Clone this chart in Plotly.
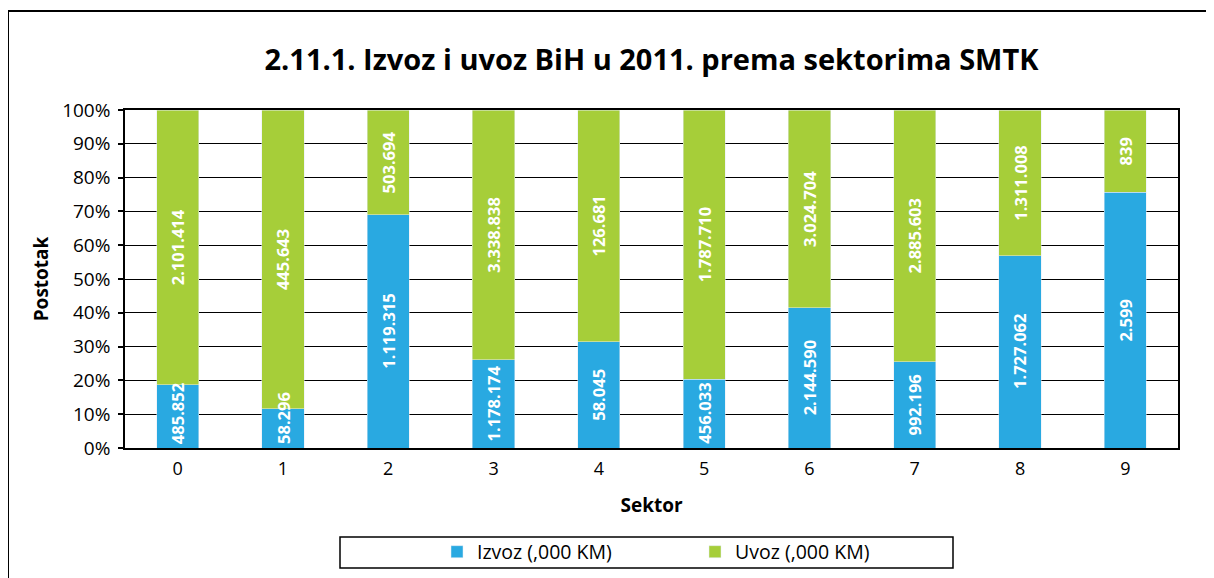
import plotly.graph_objects as go

sectors = ["0", "1", "2", "3", "4", "5", "6", "7", "8", "9"]
izvoz = [485852, 58296, 1119315, 1178174, 58045, 456033, 2144590, 992196, 1727062, 2599]
uvoz = [2101414, 445643, 503694, 3338838, 126681, 1787710, 3024704, 2885603, 1311008, 839]
y_ticks = [0, 10, 20, 30, 40, 50, 60, 70, 80, 90, 100]
y_ticktext = [f"{v}%" for v in y_ticks]


def fmt(v):
    return f"{v:,}".replace(",", ".")


BLUE = "#29A9E1"
GREEN = "#A6CE39"
FONT = "Open Sans"
LBL = dict(color="white", size=16.5, family=FONT, weight="bold")

# page body has 8px margin -> work in reference coords minus 8
O = 8
W, H = 1214 - O, 578 - O
L, R, T, B = 125 - O, 1178 - O, 110 - O, 448 - O
pw, ph = R - L, B - T


def px(x):
    return (x - O - L) / pw


def py(y):
    return (B - (y - O)) / ph


fig = go.Figure()
fig.add_trace(go.Bar(
    name="Izvoz (,000 KM)", x=sectors, y=izvoz, marker_color=BLUE,
))
fig.add_trace(go.Bar(
    name="Uvoz (,000 KM)", x=sectors, y=uvoz, marker_color=GREEN,
    text=[fmt(v) for v in uvoz], textposition="inside", textangle=-90,
    insidetextanchor="middle", textfont=LBL,
))

# export labels: centred in the blue segment, or sitting at the bottom when too short
annotations = []
for s, a, b in zip(sectors, izvoz, uvoz):
    pct = 100 * a / (a + b)
    short = pct < 21
    annotations.append(dict(
        x=s, y=0 if short else pct / 2, xref="x", yref="y",
        text=fmt(a), textangle=-90, showarrow=False, font=LBL,
        yanchor="bottom" if short else "middle", yshift=2 if short else 0,
    ))

fig.update_layout(
    width=W, height=H,
    margin=dict(l=L, r=W - R, t=T, b=H - B, autoexpand=False),
    barmode="stack", barnorm="percent", bargap=0.6,
    plot_bgcolor="white", paper_bgcolor="white",
    font=dict(family=FONT, color="black", size=17),
    uniformtext=dict(minsize=16, mode="show"),
    title=dict(
        text="<b>2.11.1. Izvoz i uvoz BiH u 2011. prema sektorima SMTK</b>",
        font=dict(size=29, family=FONT, color="black"),
        x=0.5, xref="paper", xanchor="center",
        y=1 - (60 - O) / H, yref="container", yanchor="middle",
    ),
    xaxis=dict(
        type="category", showline=True, mirror=True, linecolor="black", linewidth=1.5,
        ticks="", tickfont=dict(size=18), showgrid=False, ticklabelstandoff=4,
        automargin=False,
        title=dict(text="<b>Sektor</b>", font=dict(size=19), standoff=19),
    ),
    yaxis=dict(
        range=[0, 100], tickvals=y_ticks, ticktext=y_ticktext,
        showline=True, mirror=True, linecolor="black", linewidth=1.5,
        ticks="outside", ticklen=5, tickcolor="black", tickwidth=1.5,
        showgrid=True, gridcolor="black", gridwidth=1.2, automargin=False,
        tickfont=dict(size=19), zeroline=False, ticklabelstandoff=4,
        title=dict(text="<b>Postotak</b>", font=dict(size=19), standoff=8),
    ),
    legend=dict(
        orientation="h", x=px(437), y=py(552), xanchor="left", yanchor="middle",
        entrywidth=213, entrywidthmode="pixels", font=dict(size=19.5),
        bgcolor="rgba(0,0,0,0)", traceorder="normal",
    ),
    showlegend=True,
    annotations=annotations,
    shapes=[
        dict(type="rect", xref="paper", yref="paper",
             x0=px(8), x1=px(1230), y0=py(600), y1=py(11),
             line=dict(color="black", width=2), fillcolor="rgba(0,0,0,0)", layer="below"),
        dict(type="rect", xref="paper", yref="paper",
             x0=px(340), x1=px(953), y0=py(568), y1=py(537),
             line=dict(color="black", width=1.5), fillcolor="rgba(0,0,0,0)"),
    ],
)

fig.write_html("out.html")
